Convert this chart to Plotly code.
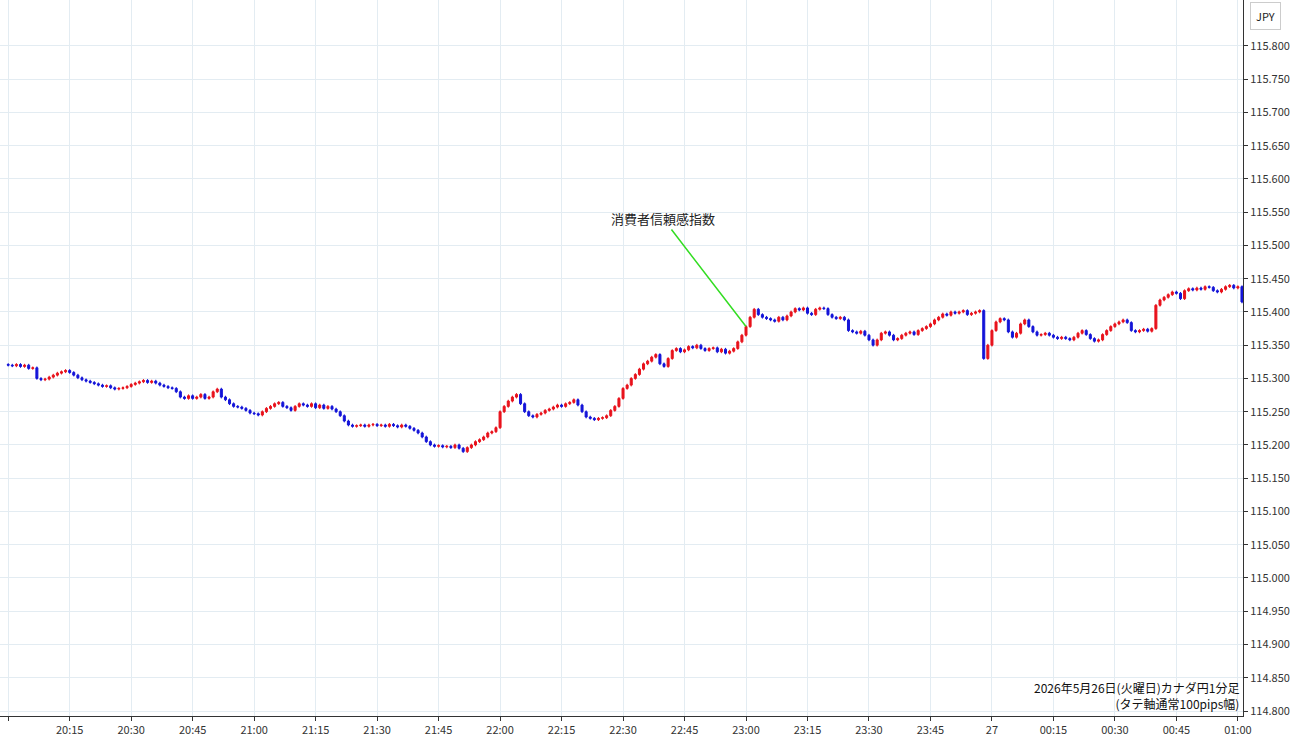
import pandas as pd
import plotly.graph_objects as go

# 1-minute closes, hour by hour
close_20 = [115.320,115.319,115.321,115.318,115.320,115.315,115.316,115.300,115.298,115.299,
            115.302,115.305,115.308,115.310,115.312,115.309,115.305,115.301,115.298,115.296,
            115.294,115.292,115.290,115.288,115.289,115.286,115.284,115.285,115.286,115.288,
            115.291,115.293,115.295,115.297,115.294,115.296,115.293,115.290,115.288,115.286,
            115.285,115.280,115.272,115.270,115.274,115.270,115.272,115.276,115.270,115.272,
            115.280,115.284,115.272,115.268,115.262,115.258,115.257,115.255,115.252,115.248]
close_21 = [115.247,115.245,115.250,115.255,115.258,115.262,115.264,115.258,115.256,115.252,
            115.258,115.262,115.260,115.258,115.262,115.256,115.260,115.255,115.258,115.254,
            115.250,115.244,115.236,115.230,115.228,115.229,115.230,115.228,115.230,115.231,
            115.229,115.230,115.228,115.231,115.229,115.227,115.230,115.228,115.225,115.222,
            115.218,115.212,115.205,115.200,115.198,115.199,115.197,115.198,115.196,115.200,
            115.195,115.190,115.196,115.200,115.205,115.208,115.212,115.218,115.220,115.226]
close_22 = [115.250,115.258,115.266,115.272,115.276,115.262,115.250,115.244,115.242,115.246,
            115.248,115.252,115.254,115.257,115.260,115.258,115.262,115.264,115.268,115.260,
            115.250,115.242,115.240,115.238,115.240,115.241,115.244,115.252,115.258,115.270,
            115.285,115.290,115.300,115.306,115.314,115.322,115.326,115.332,115.336,115.322,
            115.318,115.330,115.342,115.345,115.340,115.343,115.348,115.346,115.350,115.345,
            115.342,115.345,115.346,115.340,115.344,115.338,115.341,115.345,115.355,115.365]
close_23 = [115.378,115.392,115.404,115.396,115.392,115.390,115.388,115.386,115.392,115.388,
            115.394,115.400,115.405,115.403,115.406,115.398,115.396,115.404,115.406,115.405,
            115.396,115.392,115.390,115.392,115.388,115.372,115.370,115.368,115.371,115.365,
            115.358,115.350,115.358,115.368,115.370,115.365,115.358,115.360,115.365,115.368,
            115.370,115.366,115.372,115.375,115.378,115.382,115.388,115.392,115.397,115.395,
            115.400,115.398,115.400,115.402,115.396,115.398,115.400,115.402,115.330,115.350]
close_00 = [115.372,115.385,115.390,115.388,115.370,115.362,115.368,115.382,115.388,115.378,
            115.370,115.365,115.366,115.368,115.365,115.362,115.360,115.362,115.360,115.358,
            115.362,115.368,115.372,115.366,115.360,115.356,115.358,115.366,115.372,115.378,
            115.382,115.385,115.388,115.384,115.372,115.370,115.372,115.374,115.371,115.375,
            115.410,115.418,115.422,115.426,115.430,115.428,115.420,115.432,115.435,115.433,
            115.436,115.434,115.438,115.437,115.432,115.430,115.434,115.438,115.440,115.436]
close_01 = [115.438, 115.415]

closes = close_20 + close_21 + close_22 + close_23 + close_00 + close_01
times = pd.date_range("2026-05-26 20:00", periods=len(closes), freq="min")
opens = [closes[0] + 0.001] + closes[:-1]
highs = [max(o, c) + 0.002 for o, c in zip(opens, closes)]
lows = [min(o, c) - 0.002 for o, c in zip(opens, closes)]

tick_times = pd.date_range("2026-05-26 20:00", "2026-05-27 01:00", freq="15min")
tick_text = ["27" if t.hour == 0 and t.minute == 0 else t.strftime("%H:%M") for t in tick_times]
y_ticks = [round(114.8 + 0.05 * i, 3) for i in range(21)]

fig = go.Figure()
fig.add_trace(go.Candlestick(
    x=times, open=opens, high=highs, low=lows, close=closes,
    increasing=dict(line=dict(color="#e8121c", width=1), fillcolor="#e8121c"),
    decreasing=dict(line=dict(color="#1414d8", width=1), fillcolor="#1414d8"),
    whiskerwidth=0, showlegend=False))

fig.add_annotation(x=times[180], y=115.378, text="消費者信頼感指数",
                   showarrow=True, arrowhead=0, arrowwidth=1.5, arrowcolor="#33dd22",
                   ax=-83, ay=-108, font=dict(size=13, color="#222"))
fig.add_annotation(xref="paper", yref="paper", x=0.998, y=0.003, xanchor="right", yanchor="bottom",
                   text="2026年5月26日(火曜日)カナダ円1分足<br>(タテ軸通常100pips幅)",
                   showarrow=False, align="right", font=dict(size=12, color="#111"))
fig.add_annotation(xref="paper", yref="paper", x=1.006, y=0.978, xanchor="left", yanchor="middle",
                   text="JPY", showarrow=False, bordercolor="#ccc", borderwidth=1, borderpad=5,
                   bgcolor="white", font=dict(size=11, color="#222"))

fig.update_layout(
    width=1300, height=745, margin=dict(l=0, r=57, t=0, b=29),
    plot_bgcolor="white", paper_bgcolor="white",
    font=dict(family="Noto Sans CJK JP, sans-serif", size=11, color="#333"),
    xaxis=dict(rangeslider=dict(visible=False), tickmode="array", tickvals=tick_times, ticktext=tick_text,
               range=[pd.Timestamp("2026-05-26 19:58"), pd.Timestamp("2026-05-27 01:01:15")],
               showgrid=True, gridcolor="#e3ecf2", showline=True, linecolor="#333",
               ticks="outside", ticklen=4, tickcolor="#333"),
    yaxis=dict(side="right", range=[114.7925, 115.869], tickmode="array", tickvals=y_ticks,
               ticktext=[f"{v:.3f}" for v in y_ticks], showgrid=True, gridcolor="#e3ecf2",
               showline=True, linecolor="#333", ticks="outside", ticklen=4, tickcolor="#333"),
)

fig.write_html("out.html", config={"displayModeBar": False},
               post_script="document.body.style.margin='0';")
